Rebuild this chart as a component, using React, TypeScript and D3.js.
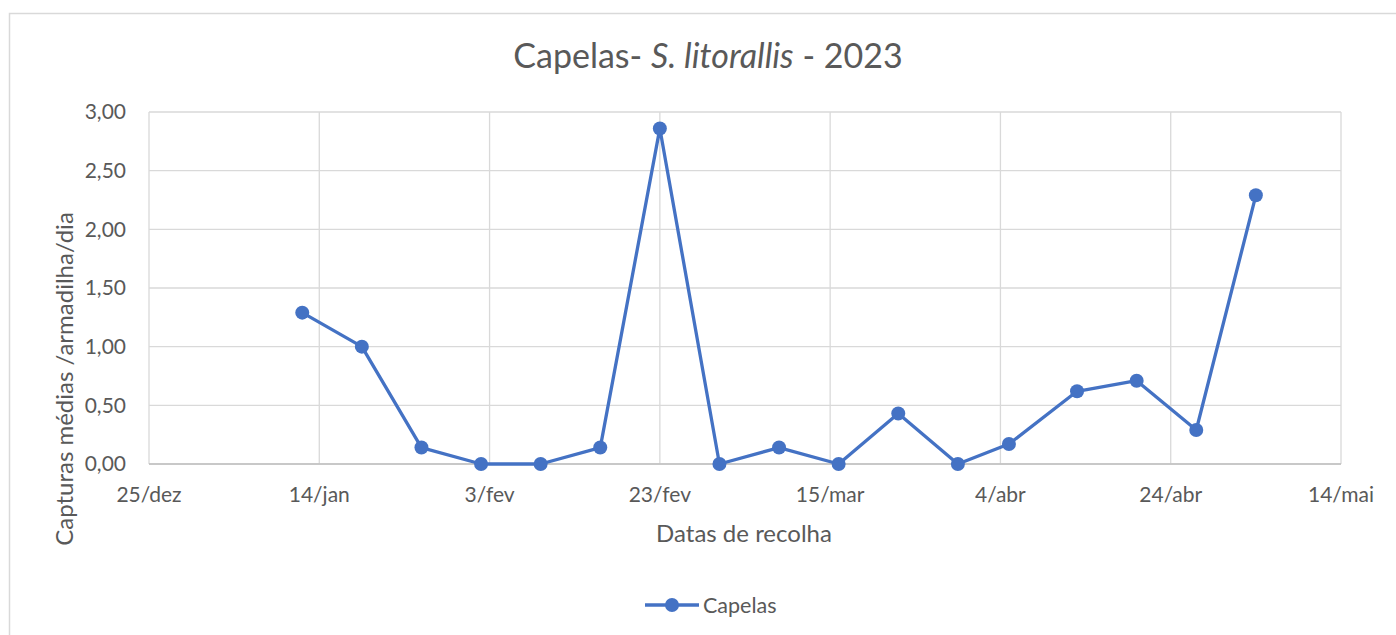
import React from 'react';
import * as d3 from 'd3';

// collection dates (2023) and mean captures per trap per day
const dates = [
  '2023-01-12', '2023-01-19', '2023-01-26', '2023-02-02', '2023-02-09', '2023-02-16',
  '2023-02-23', '2023-03-02', '2023-03-09', '2023-03-16', '2023-03-23', '2023-03-30',
  '2023-04-05', '2023-04-13', '2023-04-20', '2023-04-27', '2023-05-04'
];
const capelas = [1.29, 1.0, 0.14, 0, 0, 0.14, 2.86, 0, 0.14, 0, 0.43, 0, 0.17, 0.62, 0.71, 0.29, 2.29];

const xTickDates = ['2022-12-25', '2023-01-14', '2023-02-03', '2023-02-23', '2023-03-15', '2023-04-04', '2023-04-24', '2023-05-14'];
const xTickLabels = ['25/dez', '14/jan', '3/fev', '23/fev', '15/mar', '4/abr', '24/abr', '14/mai'];
const yTicks = [0, 0.5, 1, 1.5, 2, 2.5, 3];

const W = 1396;
const H = 635;
const FONT = 'Lato, "Open Sans", sans-serif';
const TEXT = '#595959';
const GRID = '#d9d9d9';
const BLUE = '#4472C4';

export default function App() {
  const m = { left: 149, right: 1341, top: 112, bottom: 464 };
  const parse = (s: string) => new Date(s + 'T00:00:00Z');

  const x = d3.scaleUtc()
    .domain([parse(xTickDates[0]), parse(xTickDates[xTickDates.length - 1])])
    .range([m.left, m.right]);
  const y = d3.scaleLinear().domain([0, 3]).range([m.bottom, m.top]);

  const pts = dates.map((d, i) => ({ date: parse(d), v: capelas[i] }));
  const line = d3.line<{ date: Date; v: number }>()
    .x(d => x(d.date))
    .y(d => y(d.v));

  const fmt = (v: number) => v.toFixed(2).replace('.', ',');

  return (
    <svg width={W} height={H} style={{ position: 'absolute', left: 0, top: 0, background: '#fff' }}
      fontFamily={FONT}>
      <rect x={9.5} y={13.5} width={W} height={H} fill="#fff" stroke={GRID} strokeWidth={1.5} />

      <text x={708} y={68} textAnchor="middle" fontSize={34} fill={TEXT}>
        Capelas- <tspan fontStyle="italic">S. litorallis</tspan> - 2023
      </text>

      {yTicks.map(t => (
        <g key={t}>
          <line x1={m.left} x2={m.right} y1={y(t)} y2={y(t)} stroke={GRID} strokeWidth={1.3} />
          <text x={126} y={y(t)} dy="0.35em" textAnchor="end" fontSize={21} fill={TEXT}>{fmt(t)}</text>
        </g>
      ))}

      {xTickDates.map((d, i) => (
        <g key={d}>
          <line x1={x(parse(d))} x2={x(parse(d))} y1={m.top} y2={m.bottom} stroke={GRID} strokeWidth={1.3} />
          <text x={x(parse(d))} y={502} textAnchor="middle" fontSize={21} fill={TEXT}>{xTickLabels[i]}</text>
        </g>
      ))}

      <line x1={m.left} x2={m.right} y1={m.bottom} y2={m.bottom} stroke="#bfbfbf" strokeWidth={1.5} />

      <path d={line(pts) || ''} fill="none" stroke={BLUE} strokeWidth={3.3} strokeLinejoin="round" />
      {pts.map((p, i) => (
        <circle key={i} cx={x(p.date)} cy={y(p.v)} r={7} fill={BLUE} />
      ))}

      <text x={744} y={542} textAnchor="middle" fontSize={24} fill={TEXT}>Datas de recolha</text>
      <text transform={`translate(73,${379}) rotate(-90)`} textAnchor="middle" fontSize={24} fill={TEXT}>
        Capturas médias /armadilha/dia
      </text>

      <line x1={645} x2={699} y1={605} y2={605} stroke={BLUE} strokeWidth={3.3} />
      <circle cx={672} cy={605} r={7} fill={BLUE} />
      <text x={703} y={605} dy="0.35em" fontSize={21.5} fill={TEXT}>Capelas</text>
    </svg>
  );
}
